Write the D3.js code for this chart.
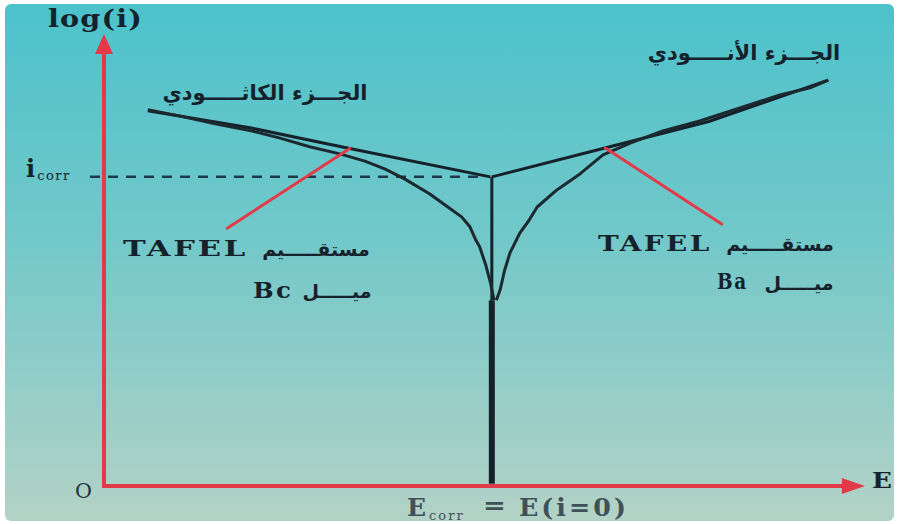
<!DOCTYPE html>
<html>
<head>
<meta charset="utf-8">
<script src="https://cdn.jsdelivr.net/npm/d3@7"></script>
<style>
  html, body { margin: 0; padding: 0; background: #ffffff; }
  svg { display: block; }
</style>
</head>
<body>
<svg id="chart" width="899" height="524"></svg>
<script>
// Potential E (arbitrary units) and log(i) (arbitrary units)
const E_CORR = 51.3;
const LOG_I_CORR = 68.7;

// Tafel straight lines (extrapolated branches)
const tafelCathodic = [[5.8, 83.4], [19.3, 79.6], [32.5, 75.0], [51.1, 68.7]];
const tafelAnodic   = [[51.3, 68.7], [66.0, 75.0], [80.0, 81.0], [95.8, 90.2]];

// Measured polarisation curve, cathodic branch
const curveCathodic = [
  [5.8, 83.6], [10.1, 82.2], [14.7, 80.5], [19.3, 79.0], [23.3, 77.3], [27.2, 75.4],
  [31.2, 73.8], [34.5, 72.2], [37.2, 70.4], [39.8, 68.2], [43.1, 64.9], [45.8, 61.6],
  [47.3, 59.8], [48.4, 57.6], [49.2, 54.6], [49.7, 53.1], [50.5, 49.1], [51.1, 45.3], [51.6, 41.3]
];
// Measured polarisation curve, anodic branch
const curveAnodic = [
  [51.9, 41.3], [52.4, 43.6], [53.0, 48.0], [53.7, 51.8], [55.0, 56.2], [56.2, 59.0],
  [57.3, 62.0], [59.9, 65.8], [63.0, 69.4], [66.0, 73.6], [69.6, 76.2], [73.9, 78.9],
  [78.8, 81.1], [84.1, 84.0], [89.4, 86.9], [93.4, 88.5], [95.8, 90.2]
];

// Pointer segments to the Tafel lines: [label end, line end]
const pointerBc = [[16.3, 57.3], [32.5, 75.0]];
const pointerBa = [[81.7, 58.2], [66.3, 75.1]];

// Text labels
const yAxisLabel = "log(i)";
const xAxisLabel = "E";
const originLabel = "O";
const cathodicTitle = "الجـــزء الكاثـــــودي";
const anodicTitle = "الجـــزء الأنـــــودي";
const tafelWord = "TAFEL";
const straightWord = "مستقـــــيم";
const slopeWord = "ميـــــل";
const bcLabel = "Bc";
const baLabel = "Ba";

const svg = d3.select("#chart");

// Background panel
const defs = svg.append("defs");
const grad = defs.append("linearGradient").attr("id", "bg").attr("x1", 0).attr("y1", 0).attr("x2", 0).attr("y2", 1);
grad.append("stop").attr("offset", "0%").attr("stop-color", "#4cc2cb");
grad.append("stop").attr("offset", "45%").attr("stop-color", "#72c8c9");
grad.append("stop").attr("offset", "100%").attr("stop-color", "#b3d2c6");
svg.append("rect").attr("x", 5).attr("y", 4).attr("width", 889).attr("height", 517)
  .attr("rx", 6).attr("fill", "url(#bg)");

const x = d3.scaleLinear().domain([0, 100]).range([104, 860]);
const y = d3.scaleLinear().domain([0, 100]).range([486, 36]);

const RED = "#e33a4a";
const INK = "#15222c";

const line = d3.line().x(d => x(d[0])).y(d => y(d[1]));

// Axes
svg.append("line").attr("x1", x(0)).attr("y1", y(0)).attr("x2", x(0)).attr("y2", y(96.5))
  .attr("stroke", RED).attr("stroke-width", 4);
svg.append("line").attr("x1", x(0) - 2).attr("y1", y(0)).attr("x2", x(98)).attr("y2", y(0))
  .attr("stroke", RED).attr("stroke-width", 4);
// Arrowheads
svg.append("path")
  .attr("d", `M${x(0)},${y(100) - 2} L${x(0) - 9},${y(96)} L${x(0) + 9},${y(96)} Z`)
  .attr("fill", RED);
svg.append("path")
  .attr("d", `M${x(100) + 5},${y(0)} L${x(97.6)},${y(0) - 8} L${x(97.6)},${y(0) + 8} Z`)
  .attr("fill", RED);

// i_corr dashed guide
svg.append("line").attr("x1", 90).attr("y1", y(LOG_I_CORR)).attr("x2", x(E_CORR) - 8).attr("y2", y(LOG_I_CORR))
  .attr("stroke", "#1d3a4a").attr("stroke-width", 2.5).attr("stroke-dasharray", "10,8");

// E_corr vertical
svg.append("line").attr("x1", x(E_CORR)).attr("y1", y(LOG_I_CORR)).attr("x2", x(E_CORR)).attr("y2", y(41.3))
  .attr("stroke", INK).attr("stroke-width", 3);
svg.append("line").attr("x1", x(E_CORR)).attr("y1", y(41.3)).attr("x2", x(E_CORR)).attr("y2", y(0.5))
  .attr("stroke", INK).attr("stroke-width", 6);

// Tafel lines
[tafelCathodic, tafelAnodic].forEach(d => {
  svg.append("path").attr("d", line(d)).attr("fill", "none")
    .attr("stroke", INK).attr("stroke-width", 3).attr("stroke-linejoin", "round");
});
// Measured curve
[curveCathodic, curveAnodic].forEach(d => {
  svg.append("path").attr("d", line(d)).attr("fill", "none")
    .attr("stroke", "#1c2a30").attr("stroke-width", 3).attr("stroke-linejoin", "round");
});

// Pointers
[pointerBc, pointerBa].forEach(d => {
  svg.append("path").attr("d", line(d)).attr("fill", "none")
    .attr("stroke", RED).attr("stroke-width", 3).attr("stroke-linecap", "round");
});

// Latin labels, stretched horizontally to a given width
const serif = "'DejaVu Serif', 'Liberation Serif', serif";
const arab = "'DejaVu Sans', sans-serif";

function latin(txt, left, base, size, len, color, weight, spacing) {
  const t = svg.append("text").attr("x", 0).attr("y", 0)
    .attr("font-family", serif).attr("font-size", size).attr("font-weight", weight || "bold")
    .attr("letter-spacing", spacing || 1)
    .attr("fill", color || INK).text(txt);
  const w = t.node().getComputedTextLength();
  t.attr("transform", `translate(${left},${base}) scale(${len / w},1)`);
  return t;
}

latin(yAxisLabel, 48, 27, 25, 95);
latin(xAxisLabel, 872, 488, 23, 21);
latin(originLabel, 75, 498, 20, 18, "#22323c", "normal");

latin(tafelWord, 123, 256, 22, 125, INK, "bold", 2);
latin(tafelWord, 598, 251, 22, 114, INK, "bold", 2);
latin(bcLabel, 253, 298, 22, 40, INK, "bold", 2);
latin(baLabel, 717, 289, 22, 31, INK, "bold", 2);

// i_corr label
const icorr = svg.append("text").attr("x", 26).attr("y", 177)
  .attr("font-family", serif).attr("fill", INK).attr("font-weight", "bold");
icorr.append("tspan").attr("font-size", 24).text("i");
icorr.append("tspan").attr("font-size", 13).attr("dy", 3).attr("dx", 2)
  .attr("font-weight", "normal").attr("letter-spacing", 1.5).text("corr");

// E_corr = E(i=0)
const ecorr = svg.append("text").attr("x", 407).attr("y", 516)
  .attr("font-family", serif).attr("fill", "#3f5058").attr("font-weight", "bold");
ecorr.append("tspan").attr("font-size", 25).text("E");
ecorr.append("tspan").attr("font-size", 13).attr("dy", 4).attr("dx", 3)
  .attr("font-weight", "normal").attr("letter-spacing", 2).text("corr");
latin("=", 483, 514, 25, 24, "#3f5058", "bold", 0);
latin("E(i=0)", 519, 516, 25, 110, "#3f5058", "bold", 3);

// Arabic labels
function arabic(txt, cx, cy, size) {
  return svg.append("text").attr("x", cx).attr("y", cy)
    .attr("font-family", arab).attr("font-size", size).attr("font-weight", "bold")
    .attr("fill", INK).attr("text-anchor", "middle").attr("direction", "rtl").text(txt);
}
arabic(cathodicTitle, 265, 100, 21);
arabic(anodicTitle, 744, 60, 21);
arabic(straightWord, 316, 256, 19);
arabic(straightWord, 780, 251, 19);
arabic(slopeWord, 337, 298, 19);
arabic(slopeWord, 799, 290, 19);
</script>
</body>
</html>
